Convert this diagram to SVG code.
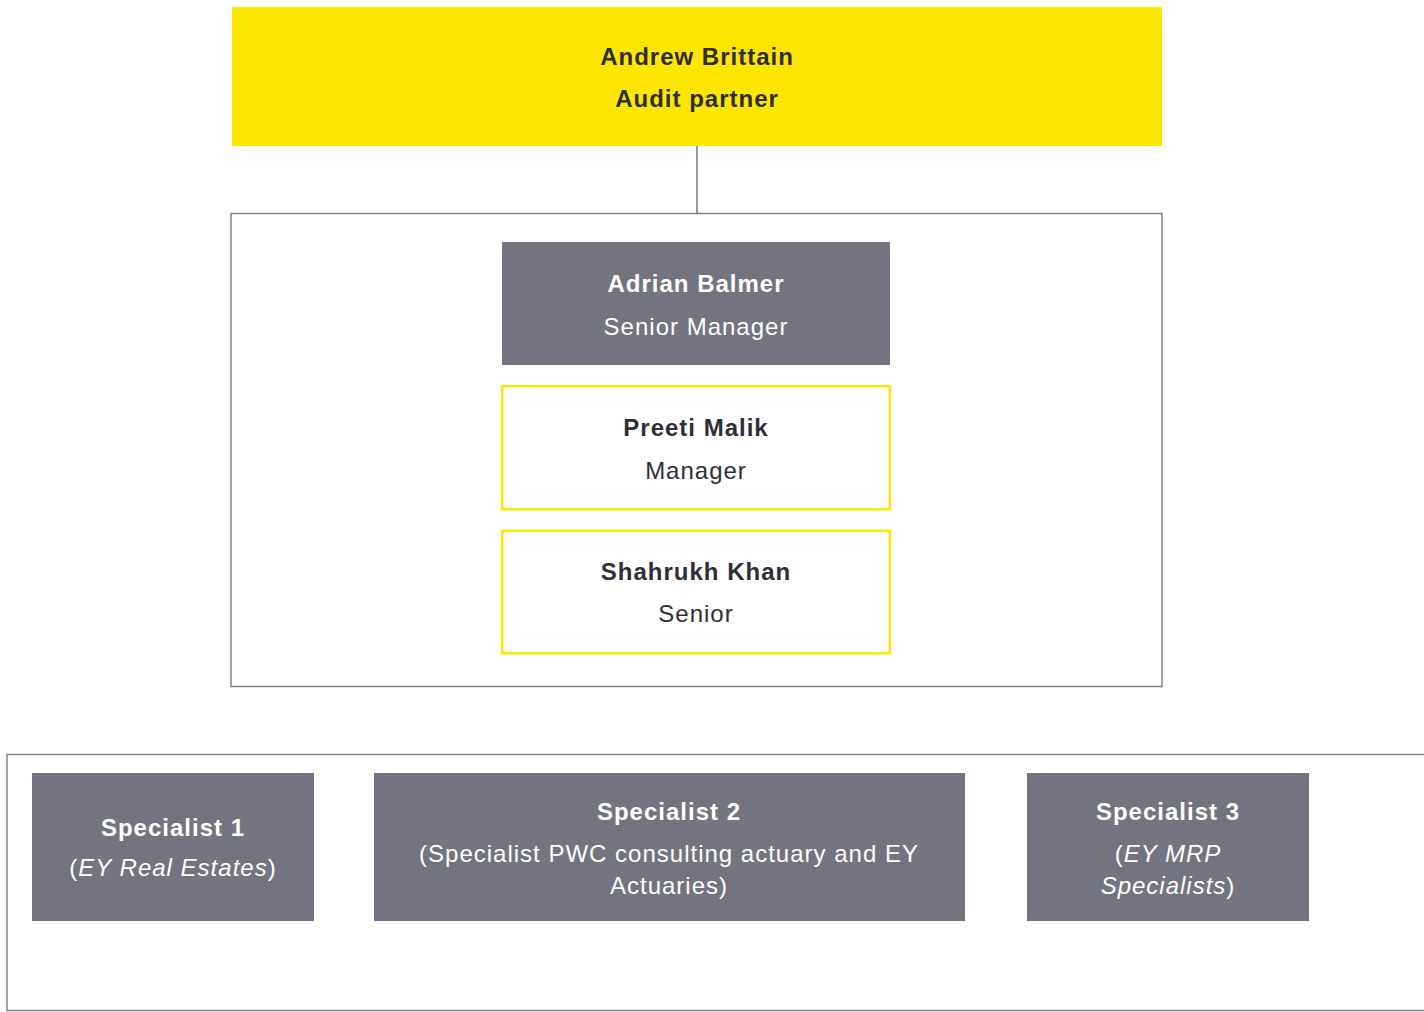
<svg xmlns="http://www.w3.org/2000/svg" width="1424" height="1012" viewBox="0 0 1424 1012">
<style>
text{font-family:"Liberation Sans",Arial,sans-serif;font-size:24px;text-anchor:middle;letter-spacing:1px}
.b{font-weight:bold}
.dk{fill:#2E2E38}
.wt{fill:#FFFFFF}
.it{font-style:italic}
.gray{fill:#747480}
.yb{fill:#FFFFFF;stroke:#FFE600;stroke-width:2.5}
.cont{fill:#FFFFFF;stroke:#85848E;stroke-width:1.5}
</style>
<rect width="1424" height="1012" fill="#FFFFFF"/>
<g id="team-container"><rect class="cont" x="231" y="213.5" width="931" height="473"/></g>
<g id="specialists-container"><rect class="cont" x="7" y="754.5" width="1430" height="256"/></g>
<g id="connectors"><line x1="697" y1="146" x2="697" y2="213" stroke="#747480" stroke-width="1.5"/></g>
<g id="andrew">
<rect x="232" y="7" width="930" height="139" fill="#FFE600"/>
<text class="b dk" x="697" y="65">Andrew Brittain</text>
<text class="b dk" x="697" y="107">Audit partner</text>
</g>
<g id="adrian">
<rect class="gray" x="502" y="242" width="388" height="123"/>
<text class="b wt" x="696" y="292">Adrian Balmer</text>
<text class="wt" x="696" y="335">Senior Manager</text>
</g>
<g id="preeti">
<rect class="yb" x="502.25" y="386.25" width="387.5" height="123"/>
<text class="b dk" x="696" y="436">Preeti Malik</text>
<text class="dk" x="696" y="479">Manager</text>
</g>
<g id="shahrukh">
<rect class="yb" x="502.25" y="530.75" width="387.5" height="122.5"/>
<text class="b dk" x="696" y="580">Shahrukh Khan</text>
<text class="dk" x="696" y="622">Senior</text>
</g>
<g id="specialist1">
<rect class="gray" x="32" y="773" width="282" height="148"/>
<text class="b wt" x="173" y="836">Specialist 1</text>
<text class="wt" x="173" y="876">(<tspan class="it">EY Real Estates</tspan>)</text>
</g>
<g id="specialist2">
<rect class="gray" x="374" y="773" width="591" height="148"/>
<text class="b wt" x="669" y="820">Specialist 2</text>
<text class="wt" x="669" y="862">(Specialist PWC consulting actuary and EY</text>
<text class="wt" x="669" y="894">Actuaries)</text>
</g>
<g id="specialist3">
<rect class="gray" x="1027" y="773" width="282" height="148"/>
<text class="b wt" x="1168" y="820">Specialist 3</text>
<text class="wt" x="1168" y="862">(<tspan class="it">EY MRP</tspan></text>
<text class="wt" x="1168" y="894"><tspan class="it">Specialists</tspan>)</text>
</g>
</svg>
